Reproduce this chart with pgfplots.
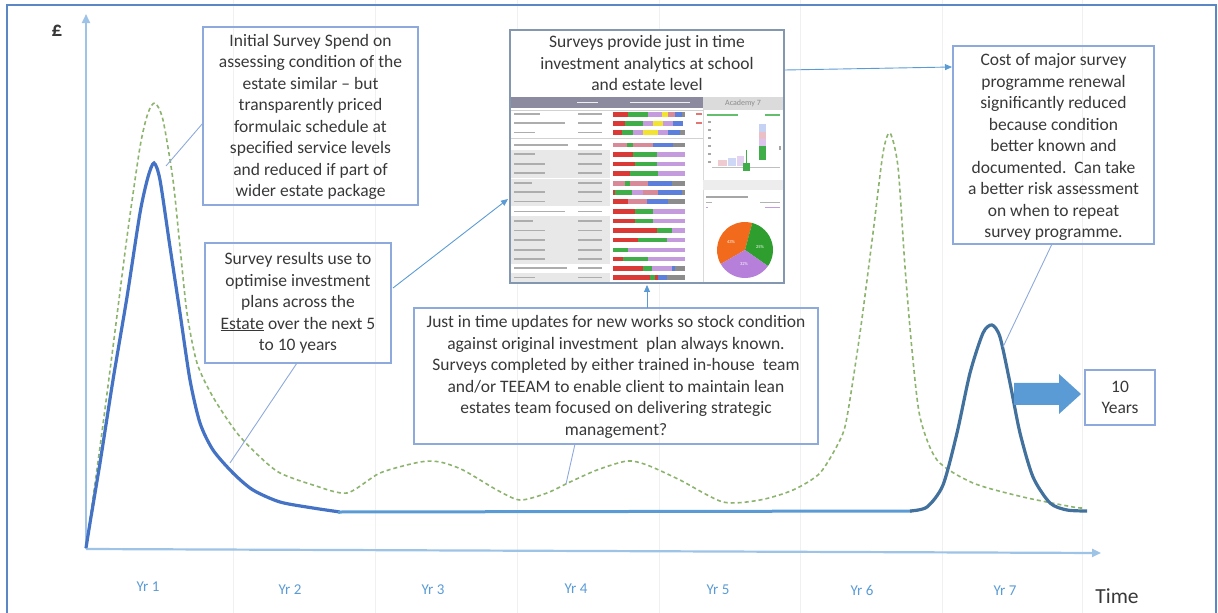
\documentclass[border=0pt]{standalone}
\usepackage{pgfplots}
\pgfplotsset{compat=1.18}
\usepackage{fontspec}
\setmainfont{Carlito}
\usetikzlibrary{arrows.meta}

\definecolor{frameblue}{HTML}{5B87C5}
\definecolor{axisblue}{HTML}{9DC3E6}
\definecolor{boxblue}{HTML}{8EA9DB}
\definecolor{txt}{HTML}{383838}
\definecolor{peakblue}{HTML}{4472C4}
\definecolor{flatblue}{HTML}{5B9BD5}
\definecolor{darkblue}{HTML}{41719C}
\definecolor{dashgreen}{HTML}{8DB46E}
\definecolor{dashframe}{HTML}{8497B0}
\definecolor{hdr}{HTML}{8C8A9E}
\definecolor{bred}{HTML}{D93A35}
\definecolor{bgreen}{HTML}{3FAE49}
\definecolor{bpurple}{HTML}{C49BDD}
\definecolor{byellow}{HTML}{F2E232}
\definecolor{bblue}{HTML}{5B7FDB}
\definecolor{bgray}{HTML}{8C8C8C}
\definecolor{bpink}{HTML}{D98A98}
\definecolor{porange}{HTML}{F26B1D}
\definecolor{pgreen}{HTML}{2E9F2E}
\definecolor{ppurple}{HTML}{B57FDA}

\begin{document}
\begin{tikzpicture}
\begin{axis}[
  width=1218pt, height=613pt, scale only axis,
  xmin=0, xmax=1218, ymin=0, ymax=613, y dir=reverse,
  clip=false,
  axis line style={draw=none},
  xtick={233,375,517,659,800,942,1082}, ytick=\empty,
  xticklabels={}, major tick length=0pt,
  xmajorgrids, grid style={color=black!6, line width=0.8pt},
]
% hand-drawn axes
\draw[axisblue, line width=2.2pt, -{Triangle[length=9pt,width=8pt]}] (axis cs:86,549) -- (axis cs:86,14);
\draw[axisblue, line width=2.2pt, -{Triangle[length=9pt,width=8pt]}] (axis cs:86,549) -- (axis cs:1101,553);

% cost with survey programme (dashed)
\addplot[dashgreen, line width=1.6pt, dash pattern=on 4pt off 3pt, smooth, tension=0.45] coordinates {
(86,548) (100,447) (113,347) (127,237) (140,147) (148,113) (155,103) (163,120)
(173,180) (180,247) (187,313) (197,363) (213,397) (237,433) (260,457) (280,473)
(313,485) (347,493) (380,473) (420,462) (440,462) (463,470) (497,490) (520,500)
(547,493) (570,482) (597,470) (627,461) (647,465) (680,480) (723,502)
(760,500) (793,490) (820,473) (840,440) (847,417) (860,333) (873,233) (883,153)
(890,133) (898,167) (905,267) (912,350) (920,417) (937,460) (973,483) (1023,497)
(1073,507) (1083,508)
};
% initial survey peak
\addplot[peakblue, line width=3.2pt, smooth, tension=0.45] coordinates {
(86,548) (90,523) (100,463) (113,380) (127,297) (140,213) (148,177) (154,163)
(160,180) (170,247) (180,313) (190,380) (200,423) (213,450) (233,473) (253,490)
(280,502) (313,508) (340,512)
};
% just in time updates
\addplot[flatblue, line width=3pt] coordinates {(338,512) (912,511)};
% renewal peak
\addplot[darkblue, line width=3.2pt, smooth, tension=0.45] coordinates {
(910,511) (927,507) (943,485) (957,433) (970,373) (983,333) (992,325) (1000,337)
(1010,383) (1020,433) (1033,477) (1050,503) (1067,510) (1087,511)
};
\end{axis}

\begin{scope}[shift={(current axis.north west)}, x=1pt, y=-1pt,
  box/.style={draw=boxblue, line width=1.3pt},
  btxt/.style={text=txt, font=\fontsize{17.5}{21.5}\selectfont, align=center, inner sep=0pt},
  pl/.style={draw=boxblue, line width=0.9pt},
  tip/.style={-{Triangle[length=7pt,width=6pt]}},
  yr/.style={text=flatblue, font=\fontsize{15}{17}\selectfont}]
% outer frame
\draw[frameblue, line width=1.8pt] (7,613) -- (7,5) -- (1216,5) -- (1216,613);

% axis captions
\node[text=txt, font=\fontsize{21}{23}\selectfont\bfseries] at (57,31) {£};
\node[text=txt, font=\fontsize{21.5}{23}\selectfont] at (1117,596) {Time};
\foreach \xx/\yy/\lab in {148/587/Yr 1, 290/590/Yr 2, 433/590/Yr 3, 576/589/Yr 4,
  718/590/Yr 5, 862/590/Yr 6, 1005/591/Yr 7}
  \node[yr] at (\xx,\yy) {\lab};

% box 1
\draw[box] (203,27) rectangle (418,205);
\node[btxt] at (310.5,117) {Initial Survey Spend on\\assessing condition of the\\estate similar – but\\transparently priced\\formulaic schedule at\\specified service levels\\and reduced if part of\\wider estate package};
\draw[pl] (203,123) -- (166,166);

% box 2
\draw[box] (205,243) rectangle (391,363);
\node[btxt] at (298,303) {Survey results use to\\optimise investment\\plans across the\\\underline{Estate} over the next 5\\to 10 years};
\draw[pl] (297,363) -- (230,463);
\draw[pl, tip, draw=flatblue] (393,288) -- (508,199);

% box 4
\draw[box] (953,46) rectangle (1154,244);
\node[btxt] at (1053.5,147) {Cost of major survey\\programme renewal\\significantly reduced\\because condition\\better known and\\documented.\ \ Can take\\a better risk assessment\\on when to repeat\\survey programme.};
\draw[pl] (1052,244) -- (1003,347);
\draw[pl, tip, draw=flatblue] (785,70) -- (952,67);

% box 5
\draw[box] (414,308) rectangle (818,444);
\node[btxt] at (616,377) {Just in time updates for new works so stock condition\\against original investment\ \ plan always known.\\Surveys completed by either trained in-house\ \ team\\and/or TEEAM to enable client to maintain lean\\estates team focused on delivering strategic\\management?};
\draw[pl] (575,444) -- (566,484);
\draw[pl, tip, draw=flatblue] (647,308) -- (647,285);

% 10 years
\fill[flatblue] (1014,383) -- (1059,383) -- (1059,374) -- (1081,394) -- (1059,414) -- (1059,405) -- (1014,405) -- cycle;
\draw[box] (1085,370) rectangle (1155,425);
\node[btxt] at (1120,397.5) {10\\Years};

% dashboard screenshot
\fill[white] (510,30) rectangle (784,283);
\node[btxt] at (647,63) {Surveys provide just in time\\investment analytics at school\\and estate level};
\fill[hdr] (511,97) rectangle (703,108);
\fill[white!85!hdr] (577,101.8) rectangle (598,103.2);
\fill[white!85!hdr] (630,101.8) rectangle (690,103.2);
\fill[black!14] (703,97) rectangle (783,110);
\node[text=black!45, font=\fontsize{8}{9}\selectfont] at (743,103.5) {Academy 7};
% shaded academy rows
\foreach \r in {154.3,164,173.3,183.3,192.3,201.7,221,230.7,240,250,259,277.7}
  \fill[black!9] (511,\r-4.7) rectangle (610,\r+4.7);
\foreach \r in {110,138.5}
  \draw[black!18, line width=0.6pt] (511,\r) -- (703,\r);
% row text placeholders
\foreach \r/\w in {114.3/540,123.3/565,132.7/535,145/568,154.3/535,164/545,173.3/545,
  183.3/532,192.3/545,201.7/545,211.7/565,221/533,230.7/545,240/545,250/545,259/545,
  268.3/567,277.7/535}{
  \fill[black!32] (514,\r-0.8) rectangle (\w,\r+0.8);
  \fill[black!32] (578,\r-0.8) rectangle (602,\r+0.8);
}
% stacked condition bars
\foreach \r/\segs in {
 114.3/{340/385/bred,385/445/bgreen,445/485/bpurple,485/505/byellow,505/525/bpink,525/545/bblue,545/555/bgray},
 123.3/{340/375/bred,375/430/bgreen,430/460/bpurple,460/490/byellow,490/520/bpurple,520/550/bblue},
 132.7/{340/365/bred,365/400/bgreen,400/430/bpurple,430/475/byellow,475/505/bpurple,505/540/bblue,540/555/bgray},
 145/{340/380/bpink,380/400/bgreen,400/460/bpink,460/520/bblue,520/555/bgray},
 154.3/{340/400/bred,400/470/bgreen,470/555/bpurple},
 164/{340/405/bred,405/470/bgreen,470/555/bpurple},
 173.3/{340/390/bred,390/475/bgreen,475/555/bpurple},
 183.3/{340/375/bpink,375/390/bgreen,390/445/bpink,445/515/bblue,515/555/bgray},
 192.3/{340/345/bred,345/395/bgreen,395/430/bpurple,430/475/bpink,475/545/bblue,545/555/bgray},
 201.7/{340/385/bred,385/440/bpink,440/505/bblue,505/555/bgray},
 211.7/{340/405/bred,405/460/bgreen,460/555/bpurple},
 221/{340/405/bred,405/460/bgreen,460/555/bpurple},
 230.7/{340/470/bred,470/515/bgreen,515/555/bpurple},
 240/{340/415/bred,415/500/bgreen,500/555/bpurple},
 250/{340/385/bgreen,385/555/bpurple},
 259/{340/370/bred,370/445/bgreen,445/555/bpurple},
 268.3/{340/430/bred,430/455/bgreen,455/515/bpurple,515/525/bblue,525/555/bgray},
 277.7/{340/450/bred,450/465/bgreen,465/475/bred,475/500/bblue,500/555/bgray}}{
  \foreach \a/\b/\c in \segs
    \fill[\c] ({500+\a/3},\r-2.3) rectangle ({500+\b/3},\r+2.3);
}
\fill[bred!70] (696,113.5) rectangle (702,115);
\fill[bred!70] (696,122.5) rectangle (702,124);
% right panel
\draw[black!15, line width=0.6pt] (703,110) -- (703,283);
\fill[bgreen!80] (707,114.5) rectangle (738,116);
\fill[bgreen!80] (765,114.5) rectangle (780,116);
\foreach \t in {122,130,138,146,154,162}
  \fill[black!35] (708,\t-0.6) rectangle (711,\t+0.6);
\draw[black!25, line width=0.5pt] (712,167) -- (780,167);
\fill[bblue!35] (759,124) rectangle (766,132);
\fill[bpink!55] (759,132) rectangle (766,139);
\fill[bpurple!60] (759,139) rectangle (766,146);
\fill[bgreen] (759,146) rectangle (766,160);
\fill[bpink!45] (718,160) rectangle (727,166);
\fill[bblue!30] (728,158) rectangle (736,166);
\fill[bpurple!45] (737,156) rectangle (744,166);
\draw[bgreen, line width=0.8pt] (746.5,150) -- (746.5,163);
\fill[bgreen] (743,163) rectangle (750,171);
\fill[black!35] (779,146) rectangle (781,150);
\fill[black!7] (703,180) rectangle (783,190);
\fill[black!35] (706,196.3) rectangle (748,197.6);
\fill[black!30] (706,202) rectangle (712,203.2);
\fill[black!30] (760,202) rectangle (780,203.2);
\fill[bpurple] (706,207) rectangle (708,208.2);
\fill[bpurple] (765,207) rectangle (780,208.2);
% pie
\fill[porange] (745,250) -- ++(150:28) arc[start angle=150, end angle=285, radius=28] -- cycle;
\fill[pgreen] (745,250) -- ++(-75:28) arc[start angle=-75, end angle=35, radius=28] -- cycle;
\fill[ppurple] (745,250) -- ++(35:28) arc[start angle=35, end angle=150, radius=28] -- cycle;
\node[white, font=\fontsize{4.5}{5}\selectfont] at (731,242) {43\%};
\node[white, font=\fontsize{4.5}{5}\selectfont] at (760,247) {25\%};
\node[white, font=\fontsize{4.5}{5}\selectfont] at (744,264) {32\%};
\draw[dashframe, line width=1.8pt] (510,30) rectangle (784,283);
\end{scope}
\pgfresetboundingbox
\path (current axis.south west) rectangle (current axis.north east);
\end{tikzpicture}
\end{document}
